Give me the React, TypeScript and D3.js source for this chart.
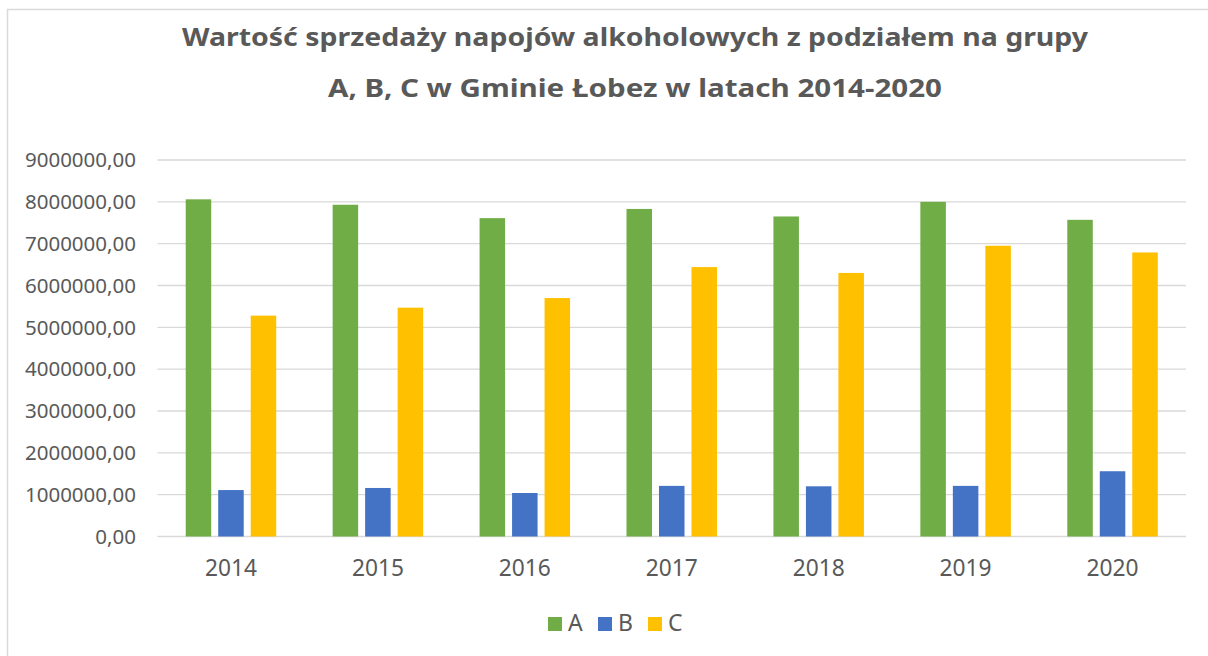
import React from 'react';
import * as d3 from 'd3';

// dane wykresu
const years = ['2014', '2015', '2016', '2017', '2018', '2019', '2020'];
const groups = ['A', 'B', 'C'];
const valuesA = [8060000, 7930000, 7610000, 7830000, 7650000, 8000000, 7570000];
const valuesB = [1110000, 1160000, 1040000, 1210000, 1200000, 1210000, 1560000];
const valuesC = [5280000, 5470000, 5700000, 6440000, 6300000, 6950000, 6790000];
const yTicks = [0, 1000000, 2000000, 3000000, 4000000, 5000000, 6000000, 7000000, 8000000, 9000000];
const titleLines = [
  'Wartość sprzedaży napojów alkoholowych z podziałem na grupy',
  'A, B, C w Gminie Łobez w latach 2014-2020',
];

const colors: Record<string, string> = { A: '#70AD47', B: '#4472C4', C: '#FFC000' };
const seriesValues: Record<string, number[]> = { A: valuesA, B: valuesB, C: valuesC };

const W = 1208;
const H = 656;
const FONT = '"Noto Sans", sans-serif';
const TEXT = '#595959';
const GRID = '#d9d9d9';

export default function App() {
  const plot = { left: 157.5, right: 1186, top: 160, bottom: 536.5 };

  const x0 = d3.scaleBand<string>().domain(years).range([plot.left, plot.right]).padding(0);
  const groupWidth = 90.5;
  const x1 = d3.scaleBand<string>().domain(groups).range([0, groupWidth]).paddingInner(0.215).paddingOuter(0);
  const y = d3.scaleLinear().domain([0, 9000000]).range([plot.bottom, plot.top]);

  const groupOffset = (x0.bandwidth() - groupWidth) / 2;
  const fmt = (d: number) => `${d},00`;

  return (
    <svg width={W} height={H} style={{ position: 'absolute', left: 0, top: 0, background: '#fff' }}>
      <rect x={7.5} y={9.5} width={W + 10} height={H + 10} fill="#fff" stroke={GRID} strokeWidth={1.5} />

      {/* tytuł */}
      <text x={635} y={46} textAnchor="middle" fontFamily={FONT} fontWeight="bold" fontSize={24.5} fill={TEXT}
        textLength={906} lengthAdjust="spacingAndGlyphs">{titleLines[0]}</text>
      <text x={635} y={97} textAnchor="middle" fontFamily={FONT} fontWeight="bold" fontSize={24.5} fill={TEXT}
        textLength={614} lengthAdjust="spacingAndGlyphs">{titleLines[1]}</text>

      {/* siatka i etykiety osi Y */}
      {yTicks.map(t => (
        <g key={t}>
          <line x1={plot.left} x2={plot.right} y1={y(t)} y2={y(t)} stroke={GRID} strokeWidth={1.3} />
          <text x={136} y={y(t)} dy="0.35em" textAnchor="end" fontFamily={FONT} fontSize={20.5} fill={TEXT}>{fmt(t)}</text>
        </g>
      ))}

      {/* słupki */}
      {years.map((yr, i) => (
        <g key={yr} transform={`translate(${(x0(yr) as number) + groupOffset},0)`}>
          {groups.map(g => {
            const v = seriesValues[g][i];
            return (
              <rect key={g} x={x1(g)} y={y(v)} width={x1.bandwidth()} height={y(0) - y(v)} fill={colors[g]} />
            );
          })}
        </g>
      ))}

      {/* etykiety osi X */}
      {years.map(yr => (
        <text key={yr} x={(x0(yr) as number) + x0.bandwidth() / 2} y={576} textAnchor="middle"
          fontFamily={FONT} fontSize={24} fill={TEXT} textLength={52} lengthAdjust="spacingAndGlyphs">{yr}</text>
      ))}

      {/* legenda */}
      {groups.map((g, i) => (
        <g key={g} transform={`translate(${548 + i * 50},617)`}>
          <rect x={0} y={0} width={14} height={14} fill={colors[g]} />
          <text x={20} y={14} fontFamily={FONT} fontSize={23} fill={TEXT}>{g}</text>
        </g>
      ))}
    </svg>
  );
}
